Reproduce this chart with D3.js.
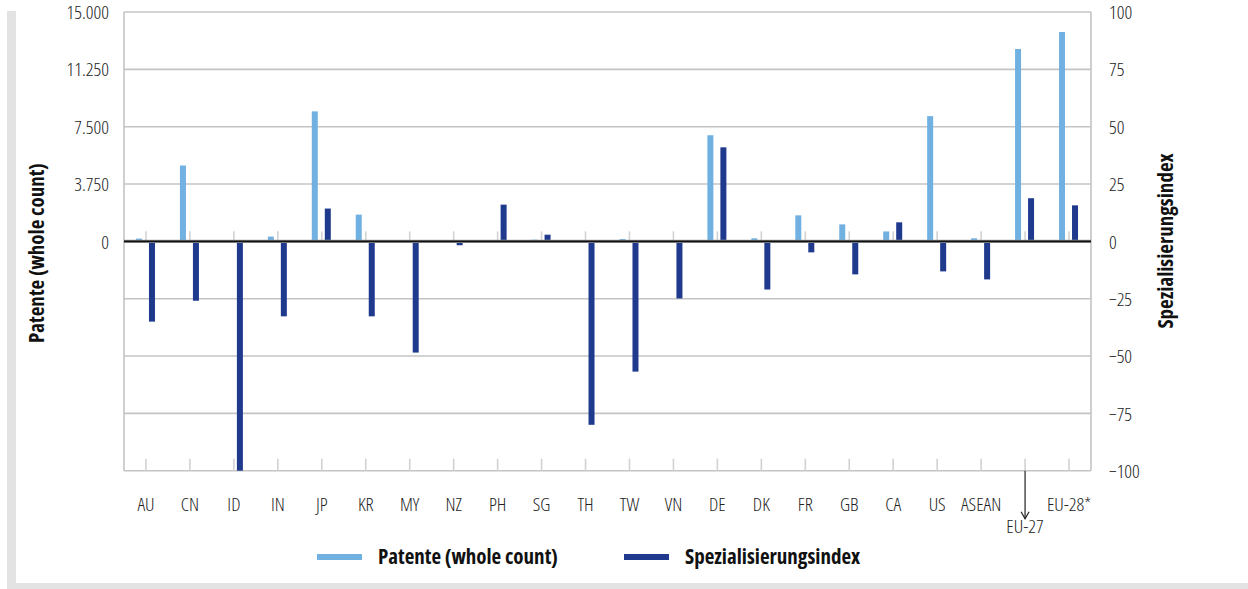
<!DOCTYPE html>
<html><head><meta charset="utf-8">
<script src="https://cdn.jsdelivr.net/npm/d3@7"></script>
<style>
html,body{margin:0;padding:0;background:#fff;}
text{font-family:"Open Sans",sans-serif;font-stretch:75%;}
</style></head>
<body>
<svg id="chart" width="1248" height="589"></svg>
<script>
const categories = ["AU","CN","ID","IN","JP","KR","MY","NZ","PH","SG","TH","TW","VN","DE","DK","FR","GB","CA","US","ASEAN","EU-27","EU-28*"];
const patents = [180,4960,20,310,8500,1750,30,50,20,110,30,150,20,6940,200,1700,1110,650,8190,200,12580,13690];
const specIndex = [-35,-25.9,-100,-32.7,14.3,-32.7,-48.5,-1.7,16,2.9,-80,-56.8,-24.9,41,-21,-4.8,-14.4,8.3,-13.1,-16.6,18.8,15.7];
const leftTicks = [0,3750,7500,11250,15000];
const rightTicks = [-100,-75,-50,-25,0,25,50,75,100];
const seriesNames = ["Patente (whole count)","Spezialisierungsindex"];
const colors = ["#71b1e1","#1f3a8d"];

const svg = d3.select("#chart");
const L = 124, R = 1091, T = 12, B = 470.7;

// frame
svg.append("rect").attr("x",7).attr("y",11).attr("width",9).attr("height",578).attr("fill","#e3e3e3");
svg.append("rect").attr("x",7).attr("y",583).attr("width",1241).attr("height",6).attr("fill","#e3e3e3");

const x = d3.scaleBand().domain(categories).range([L,R]);
const yL = d3.scaleLinear().domain([-15000,15000]).range([B,T]);
const yR = d3.scaleLinear().domain([-100,100]).range([B,T]);
const cx = d => x(d) + x.bandwidth()/2;

// gridlines
svg.append("g").selectAll("line").data(rightTicks).join("line")
  .attr("x1",L).attr("x2",R).attr("y1",d=>yR(d)).attr("y2",d=>yR(d))
  .attr("stroke","#c4c4c4").attr("stroke-width",1.6);
svg.append("line").attr("x1",L).attr("x2",L).attr("y1",T).attr("y2",B).attr("stroke","#c4c4c4").attr("stroke-width",1.6);
svg.append("line").attr("x1",R).attr("x2",R).attr("y1",T).attr("y2",B).attr("stroke","#c4c4c4").attr("stroke-width",1.6);

// category tick marks (zero axis and bottom axis)
svg.append("g").selectAll("line").data(categories).join("line")
  .attr("x1",cx).attr("x2",cx).attr("y1",yR(0)-10).attr("y2",yR(0))
  .attr("stroke","#d2d2d2").attr("stroke-width",1.6);
svg.append("g").selectAll("line").data(categories).join("line")
  .attr("x1",cx).attr("x2",cx).attr("y1",B-12).attr("y2",B)
  .attr("stroke","#d2d2d2").attr("stroke-width",1.6);

// bars
svg.append("g").selectAll("rect").data(categories).join("rect")
  .attr("x",(d)=>cx(d)-10).attr("width",6)
  .attr("y",(d,i)=>yL(Math.max(0,patents[i])))
  .attr("height",(d,i)=>Math.abs(yL(patents[i])-yL(0)))
  .attr("fill",colors[0]);
svg.append("g").selectAll("rect").data(categories).join("rect")
  .attr("x",(d)=>cx(d)+3).attr("width",6)
  .attr("y",(d,i)=>yR(Math.max(0,specIndex[i])))
  .attr("height",(d,i)=>Math.abs(yR(specIndex[i])-yR(0)))
  .attr("fill",colors[1]);

// zero line
svg.append("line").attr("x1",L).attr("x2",R).attr("y1",yR(0)).attr("y2",yR(0)).attr("stroke","#9a9a9a").attr("stroke-width",3.2);
svg.append("line").attr("x1",L).attr("x2",R).attr("y1",yR(0)).attr("y2",yR(0)).attr("stroke","#111").attr("stroke-width",1.8);

// axes labels
const loc = d3.formatLocale({decimal:",",thousands:".",grouping:[3],currency:["",""]});
const fmt = loc.format(",");
const tickStyle = s => s.attr("font-size",19).attr("font-weight",300).attr("fill","#222");

const axL = svg.append("g").attr("transform",`translate(${L-15},0)`)
  .call(d3.axisLeft(yL).tickValues(leftTicks).tickFormat(fmt).tickSize(0).tickPadding(0));
axL.select(".domain").remove();
axL.selectAll("text").call(tickStyle).attr("dy","0.35em");

const axR = svg.append("g").attr("transform",`translate(${R+18},0)`)
  .call(d3.axisRight(yR).tickValues(rightTicks).tickSize(0).tickPadding(0));
axR.select(".domain").remove();
axR.selectAll("text").call(tickStyle).attr("dy","0.35em");

const axB = svg.append("g").attr("transform",`translate(0,${B})`)
  .call(d3.axisBottom(x).tickSize(0).tickPadding(0));
axB.select(".domain").remove();
axB.selectAll("text").call(tickStyle).attr("dy","0")
  .attr("y",(d)=> d==="EU-27" ? 62 : 40);

// EU-27 arrow
const ax27 = cx("EU-27");
svg.append("line").attr("x1",ax27).attr("x2",ax27).attr("y1",B).attr("y2",B+48).attr("stroke","#222").attr("stroke-width",1.2);
svg.append("path").attr("d",`M${ax27-4},${B+41} L${ax27},${B+48} L${ax27+4},${B+41}`).attr("fill","none").attr("stroke","#222").attr("stroke-width",1.2);

// axis titles
svg.append("text").attr("transform",`translate(44,253) rotate(-90)`).attr("text-anchor","middle")
  .attr("font-size",21).attr("font-weight",700).attr("fill","#111").text("Patente (whole count)");
svg.append("text").attr("transform",`translate(1173,241) rotate(-90)`).attr("text-anchor","middle")
  .attr("font-size",21).attr("font-weight",700).attr("fill","#111").text("Spezialisierungsindex");

// legend
const legX = [317, 624];
const leg = svg.append("g").selectAll("g").data(seriesNames).join("g")
  .attr("transform",(d,i)=>`translate(${legX[i]},557)`);
leg.append("rect").attr("x",0).attr("y",-3).attr("width",45).attr("height",6).attr("fill",(d,i)=>colors[i]);
leg.append("text").attr("x",61).attr("y",0).attr("dy","0.35em")
  .attr("font-size",21).attr("font-weight",700).attr("fill","#111").text(d=>d);
</script>
</body></html>
